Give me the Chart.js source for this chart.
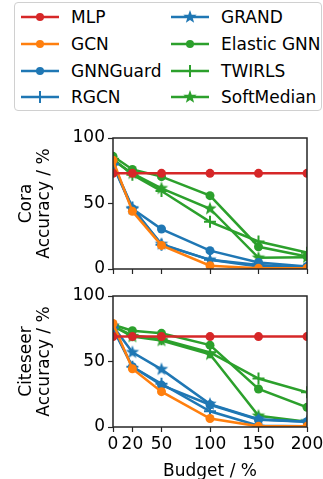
<!DOCTYPE html>
<html>
<head>
<meta charset="utf-8">
<script src="https://cdn.jsdelivr.net/npm/chart.js@4/dist/chart.umd.min.js"></script>
<style>
  html, body { margin:0; padding:0; background:#fff; }
  body { width:323px; height:479px; position:relative; overflow:hidden; font-family:"DejaVu Sans", sans-serif; }
  #legend { position:absolute; left:14px; top:2px; width:308px; height:109px; border:1px solid #d0d0d0; border-radius:4px; box-sizing:border-box; }
  .item { position:absolute; height:20px; font-size:17px; line-height:20px; color:#000; white-space:nowrap; }
  .item svg { position:absolute; left:0; top:3px; }
  .item span { position:absolute; left:50px; top:0; }
  canvas { position:absolute; left:0; }
</style>
</head>
<body>
<div id="legend"></div>
<div style="position:absolute;left:0;top:118px;width:323px;height:162px"><canvas id="cora"></canvas></div>
<div style="position:absolute;left:0;top:280px;width:323px;height:208px"><canvas id="citeseer"></canvas></div>
<script>
// budgets (x) and accuracy per model
const BUDGETS = [0, 20, 50, 100, 150, 200];
const MODELS = ['MLP', 'GCN', 'GNNGuard', 'RGCN', 'GRAND', 'Elastic GNN', 'TWIRLS', 'SoftMedian'];
const COLORS = ['#d62728', '#ff7f0e', '#1f77b4', '#1f77b4', '#1f77b4', '#2ca02c', '#2ca02c', '#2ca02c'];
const MARKERS = ['circle', 'circle', 'circle', 'cross', 'star', 'circle', 'cross', 'star'];

const CORA = [
    [73, 73, 73, 73, 73, 73],
    [83, 44, 18, 2.5, 0.5, 0.5],
    [80, 46, 30.5, 14, 5, 2],
    [80, 47, 18.5, 7, 2, 1],
    [79, 46, 19, 7, 3, 1],
    [86, 76, 70.5, 56, 17, 9.5],
    [84, 72, 59.5, 36, 21, 12.5],
    [83, 73, 61.5, 46, 8.5, 9]
];
const CITESEER = [
    [69, 69, 69, 69, 69, 69],
    [79, 44.5, 27, 6.5, 0.5, 0.5],
    [75, 46, 32, 17, 5.5, 4],
    [76, 46, 33, 12, 1, 0.5],
    [77, 57, 44, 17.5, 6, 4],
    [78, 73.5, 71.5, 62.5, 29, 15],
    [77, 70, 67, 57, 37, 26.5],
    [77, 69, 66, 55.5, 8.5, 4]
];
const Y_TICKS = [0, 50, 100];

const TICK_FONT = { family: 'DejaVu Sans', size: 17, lineHeight: 1.0 };
const TITLE_FONT = { family: 'DejaVu Sans', size: 17, lineHeight: 1.08 };

function starCanvas(color, r) {
    const c = document.createElement('canvas');
    const s = Math.ceil(r * 2 + 2);
    c.width = s; c.height = s;
    const g = c.getContext('2d');
    g.fillStyle = color;
    g.beginPath();
    for (let i = 0; i < 10; i++) {
        const rr = i % 2 ? r * 0.42 : r;
        const a = -Math.PI / 2 + i * Math.PI / 5;
        g.lineTo(s / 2 + rr * Math.cos(a), s / 2 + rr * Math.sin(a));
    }
    g.closePath();
    g.fill();
    return c;
}

function datasets(values) {
    return values.map((row, i) => {
        const m = MARKERS[i];
        return {
            label: MODELS[i],
            data: row.map((v, j) => ({ x: BUDGETS[j], y: v })),
            borderColor: COLORS[i],
            backgroundColor: COLORS[i],
            borderWidth: 2.5,
            pointStyle: m === 'star' ? starCanvas(COLORS[i], 7) : m,
            pointRadius: m === 'cross' ? 6 : 4.5,
            pointBorderWidth: m === 'cross' ? 2 : 0,
            pointBorderColor: COLORS[i],
            tension: 0
        };
    });
}

const frame = {
    id: 'frame',
    afterDatasetsDraw(chart) {
        const a = chart.chartArea, g = chart.ctx;
        g.save();
        g.strokeStyle = '#262626';
        g.lineWidth = 1.5;
        g.strokeRect(a.left, a.top, a.right - a.left, a.bottom - a.top);
        g.restore();
    }
};

function makeChart(id, values, title, showX) {
    return new Chart(document.getElementById(id), {
        type: 'line',
        data: { datasets: datasets(values) },
        plugins: [frame],
        options: {
            responsive: true,
            maintainAspectRatio: false,
            animation: false,
            layout: { padding: { top: showX ? 16 : 20, right: 16, left: 0, bottom: 0 } },
            plugins: { legend: { display: false }, tooltip: { enabled: false } },
            scales: {
                x: {
                    type: 'linear', min: 0, max: 200,
                    afterBuildTicks: s => { s.ticks = BUDGETS.map(v => ({ value: v })); },
                    afterFit: s => { s.height = showX ? 61 : 11; s.paddingLeft = 0; s.paddingRight = 0; },
                    grid: { drawOnChartArea: false, drawTicks: true, tickLength: 5, color: '#262626', tickWidth: 1.2 },
                    border: { display: false },
                    ticks: { font: TICK_FONT, color: showX ? '#000' : 'rgba(0,0,0,0)', padding: 4, maxRotation: 0, autoSkip: false },
                    title: { display: showX, text: 'Budget / %', font: TITLE_FONT, color: '#000', padding: { top: 0, bottom: 7 } }
                },
                y: {
                    min: 0, max: 100,
                    afterBuildTicks: s => { s.ticks = Y_TICKS.map(v => ({ value: v })); },
                    afterFit: s => { s.width = 113; s.paddingTop = 0; s.paddingBottom = 0; },
                    grid: { drawOnChartArea: false, drawTicks: true, tickLength: 5, color: '#262626', tickWidth: 1.2 },
                    border: { display: false },
                    ticks: { font: TICK_FONT, color: '#000', padding: 3 },
                    title: { display: true, text: [title, 'Accuracy / %'], font: TITLE_FONT, color: '#000', padding: { top: 17, bottom: 0 } }
                }
            }
        }
    });
}

makeChart('cora', CORA, 'Cora', false);
makeChart('citeseer', CITESEER, 'Citeseer', true);

// legend in two columns, four rows
const legend = document.getElementById('legend');
MODELS.forEach((name, i) => {
    const col = Math.floor(i / 4), row = i % 4;
    const c = COLORS[i], m = MARKERS[i];
    let mk = '';
    if (m === 'circle') mk = `<circle cx="19" cy="7" r="4" fill="${c}"/>`;
    if (m === 'cross') mk = `<path d="M19 1V13M13 7H25" stroke="${c}" stroke-width="2"/>`;
    if (m === 'star') {
        let p = [];
        for (let k = 0; k < 10; k++) {
            const rr = k % 2 ? 2.9 : 7, a = -Math.PI / 2 + k * Math.PI / 5;
            p.push((19 + rr * Math.cos(a)).toFixed(2) + ',' + (7 + rr * Math.sin(a)).toFixed(2));
        }
        mk = `<polygon points="${p.join(' ')}" fill="${c}"/>`;
    }
    const d = document.createElement('div');
    d.className = 'item';
    d.style.left = (col ? 156 : 6) + 'px';
    d.style.top = (4 + row * 26.8) + 'px';
    d.innerHTML = `<svg width="38" height="14"><line x1="0" y1="7" x2="38" y2="7" stroke="${c}" stroke-width="2.5"/>${mk}</svg><span>${name}</span>`;
    legend.appendChild(d);
});
</script>
</body>
</html>
